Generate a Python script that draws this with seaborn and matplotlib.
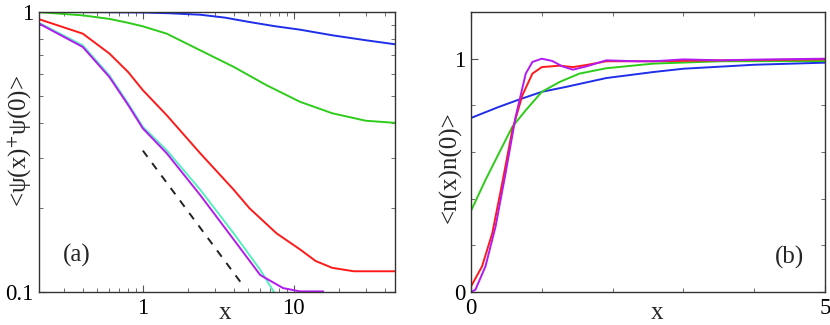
import numpy as np
import pandas as pd
import matplotlib
matplotlib.use('Agg')
import matplotlib.pyplot as plt
import matplotlib.ticker as mticker
import seaborn as sns

sns.set_style('ticks')
plt.rcParams['font.family'] = ['Liberation Serif', 'DejaVu Serif']
plt.rcParams['mathtext.fontset'] = 'stix'

# ---- panel (a): <psi(x)+ psi(0)>, log-log ----
blue_a_x = [0.2, 0.5, 1.0, 1.5, 2.4, 3.5, 5.1, 7.5, 11, 18, 30, 47]
blue_a_y = [1.0, 0.999, 0.996, 0.99, 0.978, 0.955, 0.921, 0.89, 0.865, 0.826, 0.793, 0.767]
green_a_x = [0.2, 0.4, 0.6, 0.8, 1.0, 1.44, 2.4, 4.0, 6.6, 11, 18, 30, 47]
green_a_y = [1.0, 0.973, 0.945, 0.915, 0.889, 0.837, 0.73, 0.637, 0.548, 0.478, 0.435, 0.409, 0.402]
red_a_x = [0.2, 0.4, 0.6, 0.8, 1.0, 1.44, 2.4, 4.0, 5.1, 7.7, 11, 14, 18, 25, 47]
red_a_y = [0.947, 0.837, 0.711, 0.61, 0.526, 0.428, 0.313, 0.232, 0.199, 0.162, 0.142, 0.129, 0.122, 0.1186, 0.1186]
cyan_a_x = [0.2, 0.4, 0.6, 0.8, 1.0, 1.44, 2.4, 4.0, 6.0, 7.4]
cyan_a_y = [0.921, 0.76, 0.594, 0.471, 0.389, 0.321, 0.232, 0.162, 0.12, 0.1]
purple_a_x = [0.2, 0.4, 0.6, 0.8, 1.0, 1.44, 2.4, 4.0, 6.0, 8.5, 11, 15.7]
purple_a_y = [0.916, 0.75, 0.586, 0.465, 0.384, 0.313, 0.222, 0.154, 0.115, 0.1033, 0.1005, 0.1005]
dash_a_x = [1.0, 4.65]
dash_a_y = [0.32, 0.105]

# ---- panel (b): <n(x)n(0)>, linear ----
blue_b_x = [0, 0.39, 0.68, 1.0, 1.34, 1.91, 2.58, 3.0, 4.0, 5.0]
blue_b_y = [0.746, 0.793, 0.825, 0.858, 0.879, 0.917, 0.943, 0.957, 0.974, 0.983]
green_b_x = [0, 0.204, 0.393, 0.583, 0.773, 1.0, 1.25, 1.53, 1.91, 2.58, 3.52, 5.0]
green_b_y = [0.348, 0.48, 0.594, 0.708, 0.779, 0.858, 0.90, 0.936, 0.959, 0.979, 0.989, 0.99]
red_b_x = [0, 0.156, 0.30, 0.44, 0.583, 0.725, 0.867, 1.0, 1.25, 1.44, 1.63, 1.91, 2.58, 3.52, 5.0]
red_b_y = [0.024, 0.11, 0.252, 0.466, 0.694, 0.843, 0.936, 0.964, 0.970, 0.964, 0.973, 0.989, 0.989, 0.993, 0.997]
mag_b_x = [0, 0.062, 0.204, 0.346, 0.488, 0.63, 0.773, 0.867, 1.0, 1.15, 1.29, 1.44, 1.63, 1.91,
           2.34, 2.58, 3.0, 3.52, 4.0, 5.0]
mag_b_y = [0.0, 0.01, 0.11, 0.28, 0.509, 0.751, 0.936, 0.986, 1.0, 0.99, 0.967, 0.953, 0.967, 0.993,
           0.989, 0.989, 0.997, 0.993, 0.996, 1.0]

c_blue = '#1f2ee8'
c_green = '#2ecc1a'
c_red = '#ff1a1a'
c_cyan = '#55f0c0'
c_purple = '#b31af0'

fig = plt.figure(figsize=(8.3, 3.25), dpi=100)
ax1 = fig.add_axes([0.047, 0.1015, 0.429, 0.8615])
ax2 = fig.add_axes([0.5675, 0.1015, 0.4265, 0.8615])

lw = 1.4
for xs, ys, c in [(blue_a_x, blue_a_y, c_blue), (green_a_x, green_a_y, c_green),
                  (red_a_x, red_a_y, c_red), (cyan_a_x, cyan_a_y, c_cyan),
                  (purple_a_x, purple_a_y, c_purple)]:
    df = pd.DataFrame({'x': xs, 'y': ys})
    sns.lineplot(data=df, x='x', y='y', color=c, lw=lw, ax=ax1, sort=False, estimator=None)
sns.lineplot(data=pd.DataFrame({'x': dash_a_x, 'y': dash_a_y}), x='x', y='y', color='#222222',
             lw=1.4, ax=ax1, estimator=None)
ax1.lines[-1].set_dashes([4, 4])

ax1.set_xscale('log')
ax1.set_yscale('log')
ax1.set_xlim(0.205, 47)
ax1.set_ylim(0.1, 1.0)
ax1.xaxis.set_major_locator(mticker.FixedLocator([1, 10]))
ax1.xaxis.set_major_formatter(mticker.FixedFormatter(['1', '10']))
ax1.xaxis.set_minor_locator(mticker.LogLocator(base=10, subs=np.arange(2, 10)))
ax1.xaxis.set_minor_formatter(mticker.NullFormatter())
ax1.yaxis.set_major_locator(mticker.FixedLocator([0.1, 1]))
ax1.yaxis.set_major_formatter(mticker.FixedFormatter(['0.1', '1']))
ax1.yaxis.set_minor_locator(mticker.LogLocator(base=10, subs=np.arange(2, 10)))
ax1.yaxis.set_minor_formatter(mticker.NullFormatter())
ax1.set_xlabel('x', fontsize=18, va='baseline')
ax1.set_ylabel(r'<ψ(x)$^{+}$ψ(0)>', fontsize=18, va='center')
ax1.xaxis.set_label_coords(0.522, -0.097)
ax1.yaxis.set_label_coords(-0.053, 0.54)
ax1.text(0.107, 0.129, '(a)', transform=ax1.transAxes, fontsize=18, ha='center', va='center')

for xs, ys, c in [(blue_b_x, blue_b_y, c_blue), (green_b_x, green_b_y, c_green),
                  (red_b_x, red_b_y, c_red), (mag_b_x, mag_b_y, c_purple)]:
    df = pd.DataFrame({'x': xs, 'y': ys})
    sns.lineplot(data=df, x='x', y='y', color=c, lw=lw, ax=ax2, sort=False, estimator=None)
ax2.set_xlim(0, 5)
ax2.set_ylim(0, 1.2)
ax2.xaxis.set_major_locator(mticker.FixedLocator([0, 5]))
ax2.xaxis.set_minor_locator(mticker.MultipleLocator(1))
ax2.yaxis.set_major_locator(mticker.FixedLocator([0, 1]))
ax2.yaxis.set_minor_locator(mticker.MultipleLocator(0.2))
ax2.set_xlabel('x', fontsize=18, va='baseline')
ax2.set_ylabel('<n(x)n(0)>', fontsize=18, va='center')
ax2.xaxis.set_label_coords(0.525, -0.097)
ax2.yaxis.set_label_coords(-0.059, 0.446)
ax2.text(0.901, 0.125, '(b)', transform=ax2.transAxes, fontsize=18, ha='center', va='center')

for ax in (ax1, ax2):
    for s in ax.spines.values():
        s.set_color('#333333')
        s.set_linewidth(1.0)
    ax.tick_params(which='both', direction='in', top=True, right=True, colors='#555555',
                   labelcolor='black', labelsize=16.5, pad=4)
    ax.tick_params(which='major', length=5)
    ax.tick_params(which='minor', length=3)

fig.savefig('out.png', dpi=100)
